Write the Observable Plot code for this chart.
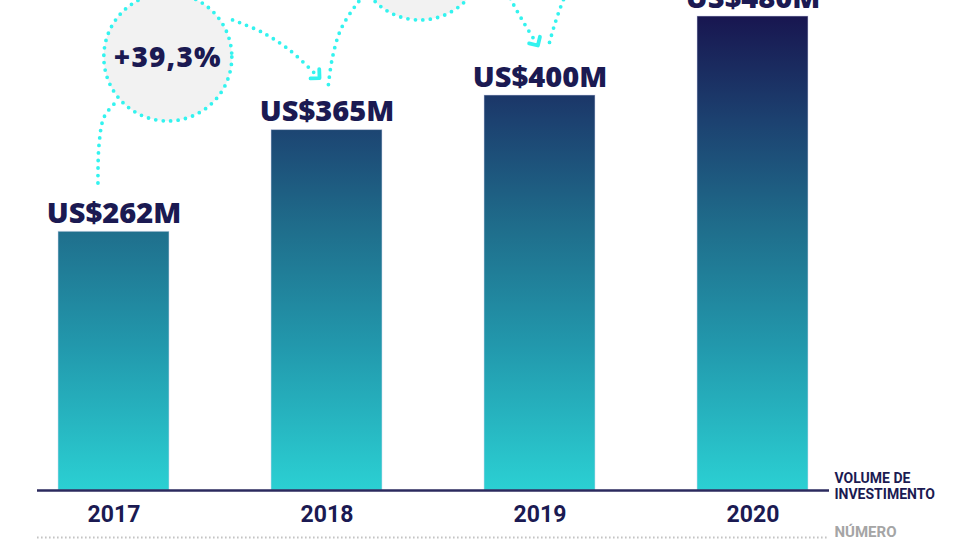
<!DOCTYPE html>
<html><head><meta charset="utf-8">
<script src="https://cdn.jsdelivr.net/npm/d3@7"></script>
<script src="https://cdn.jsdelivr.net/npm/@observablehq/plot@0.6"></script>
<style>
body{margin:0;background:#fff;}
#chart{position:relative;width:960px;height:540px;overflow:hidden;}
</style>
</head><body><div id="chart"></div>
<script>
// ---- data ----
const years = ["2017", "2018", "2019", "2020"];
const values = [262, 365, 400, 480];
const valueLabels = ["US$262M", "US$365M", "US$400M", "US$480M"];
const growthLabels = ["+39,3%"];
const sideLabels = ["VOLUME DE", "INVESTIMENTO"];
const rowLabel = "NÚMERO";

const data = years.map((y, i) => ({year: y, value: values[i], label: valueLabels[i]}));

const navy = "#1b1a52";
const cyan = "#33f3ef";

// annotation geometry in (t = fractional bar index, v = value units)
const bubbles = [
  {t: 0.255, v: 438.5, r: 64, text: growthLabels[0]},
  {t: 1.439, v: 540.8, r: 64, text: ""}
];
const connectors = [
  {head: false, pts: [[-0.073, 310.9], [-0.068, 349.4], [-0.044, 377.7], [0.012, 392.9]]},
  {head: true,  pts: [[0.559, 476], [0.695, 463.8], [0.826, 445.6], [0.957, 419.2]]},
  {head: false, pts: [[1.009, 410.6], [1.027, 436.9], [1.065, 465.3], [1.135, 490.1], [1.209, 508.4]]},
  {head: true,  pts: [[1.832, 511.4], [1.874, 493.2], [1.930, 471.9], [1.985, 452.7]]},
  {head: false, pts: [[2.047, 453.2], [2.066, 467.8], [2.094, 486.1], [2.127, 504.3]]}
];

const gradDefs = (index, scales) => {
  const g = d3.create("svg:defs");
  const lg = g.append("linearGradient").attr("id", "barGrad")
    .attr("gradientUnits", "userSpaceOnUse")
    .attr("x1", 0).attr("x2", 0)
    .attr("y1", scales.y(0)).attr("y2", scales.y(480));
  [[0, "#2bd0d3"], [0.3, "#2299ad"], [0.55, "#1f6e8c"], [0.78, "#1c4170"], [1, "#181650"]]
    .forEach(([o, c]) => lg.append("stop").attr("offset", o).attr("stop-color", c));
  return g.node();
};

const annotations = (index, scales) => {
  const x = scales.x;
  const bw = (scales.scales && scales.scales.x && scales.scales.x.bandwidth) || (x.bandwidth ? x.bandwidth() : 0);
  const c0 = x(years[0]) + bw / 2, c1 = x(years[1]) + bw / 2;
  const step = c1 - c0;
  const X = t => c0 + t * step;
  const Y = v => scales.y(v);
  const g = d3.create("svg:g");
  const dotted = sel => sel.attr("fill", "none").attr("stroke", cyan).attr("stroke-width", 3.8)
    .attr("stroke-linecap", "round").attr("stroke-dasharray", "0 7.5");
  bubbles.forEach(b => {
    g.append("circle").attr("cx", X(b.t)).attr("cy", Y(b.v)).attr("r", b.r)
      .call(dotted).attr("fill", "#f2f2f2");
    if (b.text) {
      g.append("text").attr("x", X(b.t)).attr("y", Y(b.v)).attr("dy", "0.36em")
        .attr("text-anchor", "middle").attr("fill", navy)
        .attr("font-family", "'Open Sans'").attr("font-weight", 800).attr("font-size", 28)
        .attr("letter-spacing", 1.2).text(b.text);
    }
  });
  const line = d3.line().curve(d3.curveCatmullRom);
  connectors.forEach(c => {
    const p = c.pts.map(([t, v]) => [X(t), Y(v)]);
    g.append("path").attr("d", line(p)).call(dotted);
    if (c.head) {
      const [xa, ya] = p[p.length - 2], [xb, yb] = p[p.length - 1];
      const a = Math.atan2(yb - ya, xb - xa);
      const tip = [xb + 3 * Math.cos(a), yb + 3 * Math.sin(a)];
      const L = 9;
      const a1 = a + Math.PI - Math.PI / 4, a2 = a + Math.PI + Math.PI / 4;
      g.append("path")
        .attr("d", `M${tip[0] + L * Math.cos(a1)},${tip[1] + L * Math.sin(a1)}L${tip[0]},${tip[1]}L${tip[0] + L * Math.cos(a2)},${tip[1] + L * Math.sin(a2)}`)
        .attr("fill", "none").attr("stroke", cyan).attr("stroke-width", 3.8)
        .attr("stroke-linecap", "round").attr("stroke-linejoin", "round");
    }
  });
  return g.node();
};

const chart = Plot.plot({
  width: 960,
  height: 540,
  marginTop: 16,
  marginBottom: 50,
  marginLeft: 37,
  marginRight: 131,
  style: {background: "transparent", fontFamily: "Roboto"},
  x: {domain: years, paddingInner: 0.48, paddingOuter: 0.098, axis: null},
  y: {domain: [0, 480], axis: null},
  marks: [
    gradDefs,
    Plot.barY(data, {x: "year", y: "value", fill: "url(#barGrad)", stroke: "#d8dcef", strokeOpacity: 0.55, strokeWidth: 1}),
    Plot.ruleY([0], {stroke: "#2b2a5e", strokeWidth: 2.5}),
    Plot.ruleY([0], {dy: 47, stroke: "#c4c4c4", strokeWidth: 2, strokeDasharray: "1.6 2.4"}),
    Plot.text(data, {x: "year", y: "value", text: "label", dy: -9, lineAnchor: "bottom",
      fontSize: 29, fontWeight: 800, fontFamily: "Open Sans", fill: navy, letterSpacing: 1}),
    Plot.text(data, {x: "year", y: 0, text: "year", dy: 24, lineAnchor: "middle",
      fontSize: 23, fontWeight: 700, fontFamily: "Roboto", fill: navy}),
    Plot.text([sideLabels.join("\n")], {frameAnchor: "bottom-right", dx: 5, dy: -4.5,
      textAnchor: "start", lineAnchor: "middle", lineHeight: 1.12,
      fontSize: 14, fontWeight: 700, fontFamily: "Roboto", fill: navy}),
    Plot.text([rowLabel], {frameAnchor: "bottom-right", dx: 5, dy: 42,
      textAnchor: "start", lineAnchor: "middle",
      fontSize: 15, fontWeight: 700, fontFamily: "Roboto", fill: "#a5a5a5"}),
    annotations
  ]
});
document.getElementById("chart").appendChild(chart);
</script>
</body></html>
